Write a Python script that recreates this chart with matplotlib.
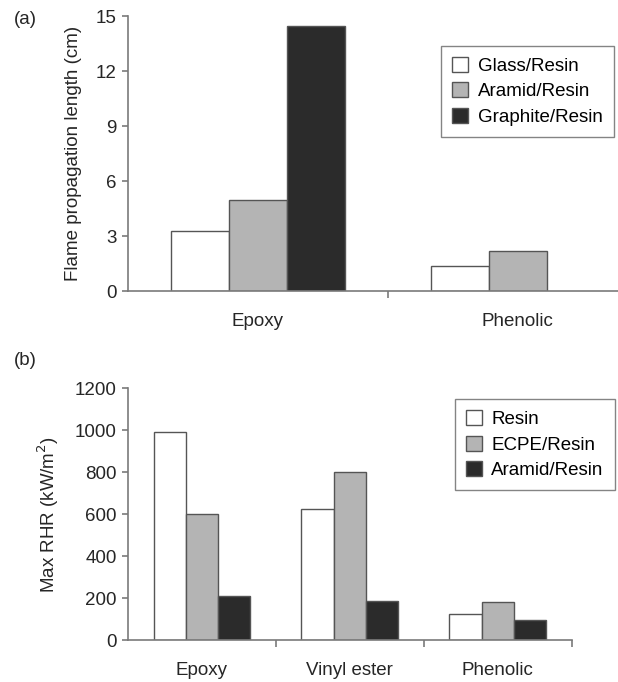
import numpy as np
import matplotlib
matplotlib.use("Agg")
import matplotlib.pyplot as plt

plt.rcParams['font.family'] = ['Liberation Sans', 'DejaVu Sans']

# Панель (a): длина распространения пламени
cats_a = ["Epoxy", "Phenolic"]
series_a = ["Glass/Resin", "Aramid/Resin", "Graphite/Resin"]
glass_a = [3.3, 1.35]
aramid_a = [5.0, 2.2]
graphite_a = [14.5, np.nan]
yticks_a = [0, 3, 6, 9, 12, 15]

# Панель (b): максимальная скорость тепловыделения
cats_b = ["Epoxy", "Vinyl ester", "Phenolic"]
series_b = ["Resin", "ECPE/Resin", "Aramid/Resin"]
resin_b = [990, 625, 125]
ecpe_b = [600, 800, 180]
aramid_b = [210, 185, 95]
yticks_b = [0, 200, 400, 600, 800, 1000, 1200]

colors = ["white", "#b4b4b4", "#2b2b2b"]
edge = "#555555"
axcol = "#7a7a7a"
txt = "#262626"
fs = 13.5

fig = plt.figure(figsize=(6.18, 6.82), dpi=100)


def style_axes(ax):
    for s in ["top", "right"]:
        ax.spines[s].set_visible(False)
    for s in ["left", "bottom"]:
        ax.spines[s].set_color(axcol)
        ax.spines[s].set_linewidth(1.2)
    ax.tick_params(axis="y", colors=axcol, labelcolor=txt,
                   labelsize=fs, length=4, width=1.2, pad=4, direction="out")
    ax.tick_params(axis="x", which="major", length=0, labelsize=fs,
                   labelcolor=txt, pad=16)
    ax.tick_params(axis="x", which="minor", colors=axcol, length=5,
                   width=1.2, direction="out")


def draw(ax, cats, data, labels, width):
    x = np.arange(len(cats))
    for i, vals in enumerate(data):
        ax.bar(x + (i - 1) * width, vals, width, color=colors[i],
               edgecolor=edge, linewidth=1.0, label=labels[i], zorder=2)
    ax.set_xticks(x)
    ax.set_xticklabels(cats)
    ax.set_xticks(np.arange(len(cats)) + 0.5, minor=True)


def legend(ax, anchor):
    ax.legend(loc="upper right", bbox_to_anchor=anchor, bbox_transform=fig.transFigure,
              fontsize=fs, frameon=True, fancybox=False, edgecolor="#666666",
              handlelength=0.85, handleheight=0.85, handletextpad=0.5,
              borderpad=0.6, labelspacing=0.4, borderaxespad=0)


# (a)
ax1 = fig.add_axes([0.207, 0.573, 0.793, 0.403])
draw(ax1, cats_a, [glass_a, aramid_a, graphite_a], series_a, 0.223)
ax1.set_xlim(-0.5, 1.385)
ax1.set_ylim(0, 15)
ax1.set_yticks(yticks_a)
style_axes(ax1)
ax1.set_ylabel("Flame propagation length (cm)", fontsize=fs, color=txt, labelpad=10)
legend(ax1, (0.993, 0.933))

# (b)
ax2 = fig.add_axes([0.207, 0.0615, 0.718, 0.369])
draw(ax2, cats_b, [resin_b, ecpe_b, aramid_b], series_b, 0.218)
ax2.set_xlim(-0.5, 2.5)
ax2.set_ylim(0, 1200)
ax2.set_yticks(yticks_b)
style_axes(ax2)
ax2.set_ylabel("Max RHR (kW/m$^2$)", fontsize=fs, color=txt, labelpad=10)
legend(ax2, (0.995, 0.415))

fig.text(0.022, 0.972, "(a)", fontsize=fs, va="center", color=txt)
fig.text(0.022, 0.472, "(b)", fontsize=fs, va="center", color=txt)

fig.savefig("out.png", dpi=100)
